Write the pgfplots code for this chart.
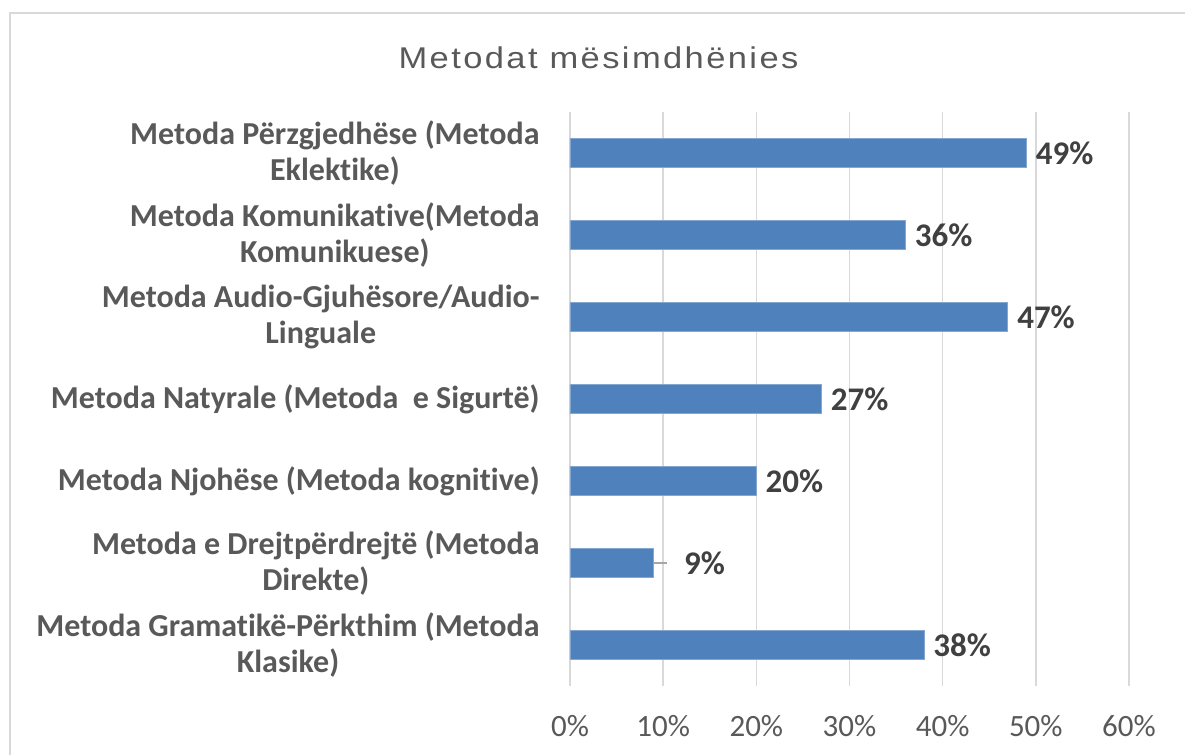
\documentclass[border=0pt]{standalone}
\usepackage{pgfplots}
\pgfplotsset{compat=1.18}
\usepackage{fontspec}
\setmainfont{Carlito}[Ligatures=NoCommon]
\newfontfamily\titlefont[LetterSpace=8,FakeStretch=1.15]{Liberation Sans}
\definecolor{barblue}{HTML}{4F81BD}
\definecolor{txtgray}{HTML}{595959}
\definecolor{lblgray}{HTML}{404040}
\definecolor{gridgray}{HTML}{D9D9D9}
\definecolor{leadgray}{HTML}{A6A6A6}
\begin{document}
\begin{tikzpicture}
\path[use as bounding box] (0,0) rectangle (592.5pt,377.5pt);
\draw[gridgray, line width=1pt] (4.75pt,-5pt) -- (4.75pt,371pt) -- (600pt,371pt);
\node[font=\titlefont\fontsize{15}{18}\selectfont, text=txtgray] at (299.25pt,348.5pt) {Metodat mësimdhënies};
\begin{axis}[
  at={(285pt,34.5pt)}, anchor=south west,
  scale only axis, width=279.5pt, height=287pt,
  xbar, bar width=14.5pt, bar shift=0pt,
  xmin=0, xmax=60, ymin=-0.5, ymax=6.5,
  xtick={0,10,20,30,40,50,60},
  xticklabels={0\%,10\%,20\%,30\%,40\%,50\%,60\%},
  ytick={0,1,2,3,4,5,6},
  yticklabels={
    {Metoda Gramatikë-Përkthim (Metoda\\Klasike)},
    {Metoda e Drejtpërdrejtë (Metoda\\Direkte)},
    {Metoda Njohëse (Metoda kognitive)},
    {Metoda Natyrale (Metoda\ \ e Sigurtë)},
    {Metoda Audio-Gjuhësore/Audio-\\Linguale},
    {Metoda Komunikative(Metoda\\Komunikuese)},
    {Metoda Përzgjedhëse (Metoda\\Eklektike)}},
  yticklabel style={align=center, anchor=east, inner sep=0pt, xshift=-15pt,
    font=\bfseries\fontsize{16}{18}\selectfont, text=txtgray},
  xticklabel style={anchor=base, inner sep=0pt, yshift=-25.5pt,
    font=\fontsize{15.5}{18}\selectfont, text=txtgray},
  major tick length=0pt,
  axis line style={draw=none},
  xmajorgrids, major grid style={draw=gridgray, line width=0.75pt},
  nodes near coords={\pgfmathprintnumber[assume math mode=true]{\pgfplotspointmeta}\%},
  point meta=x,
  nodes near coords style={anchor=west, xshift=4.5pt, inner sep=0pt,
    font=\bfseries\fontsize{16.5}{18}\selectfont, text=lblgray},
]
\addplot[fill=barblue, draw=barblue!70!white, line width=0.4pt] coordinates {
  (38,0) (20,2) (27,3) (47,4) (36,5) (49,6)};
\addplot[fill=barblue, draw=barblue!70!white, line width=0.4pt,
  nodes near coords style={xshift=10.5pt}] coordinates {(9,1)};
\draw[leadgray, line width=1.2pt] (axis cs:9,1) -- (axis cs:10.4,1);
\end{axis}
\end{tikzpicture}
\end{document}
